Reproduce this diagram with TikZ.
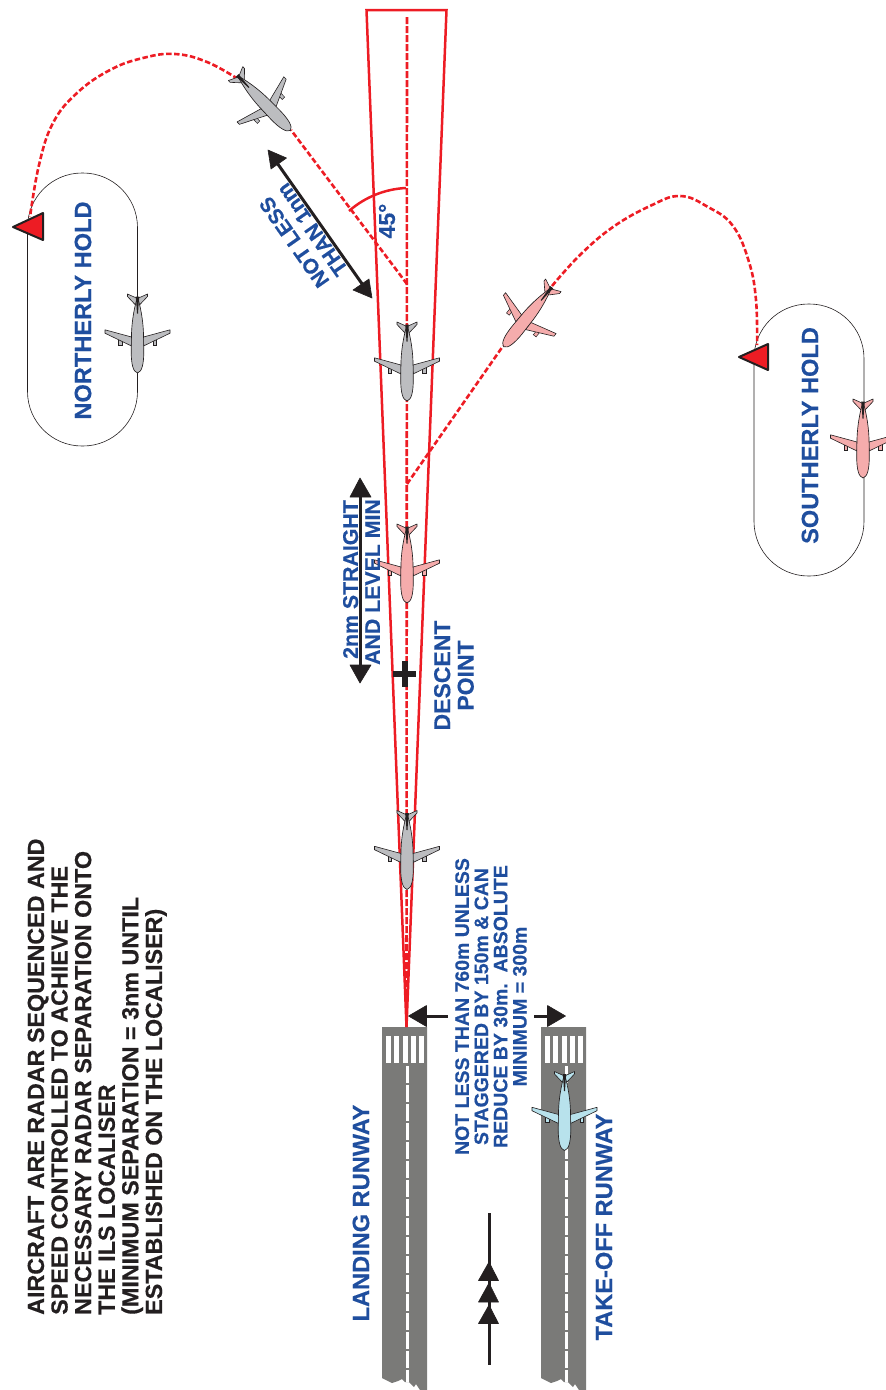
\documentclass[tikz,border=0pt]{standalone}
\usepackage{fontspec}
\setmainfont[BoldFeatures={FakeBold=0.4}]{Liberation Sans}
\definecolor{lblue}{HTML}{1F4E9E}
\definecolor{lred}{HTML}{ED1C24}
\definecolor{lblack}{HTML}{231F20}
\definecolor{rwgrey}{HTML}{7A7A78}
\definecolor{pgrey}{HTML}{BCBDC0}
\definecolor{ppink}{HTML}{F5ACAC}
\definecolor{pcyan}{HTML}{B8E2EC}
\newcommand{\acft}[5]{%
\begin{scope}[shift={(#1,#2)},rotate=#3,local bounding box=#5]
 \filldraw[fill=#4,draw=lblack,line width=.5pt] (-19,6) rectangle (-15.5,11.5);
 \filldraw[fill=#4,draw=lblack,line width=.5pt] (19,6) rectangle (15.5,11.5);
 \filldraw[fill=#4,draw=lblack,line width=.6pt,line join=round]
   (-32.5,-3.7) -- (-32.5,-.3) -- (-6,12.5) -- (-6,3.5) -- cycle;
 \filldraw[fill=#4,draw=lblack,line width=.6pt,line join=round]
   (32.5,-3.7) -- (32.5,-.3) -- (6,12.5) -- (6,3.5) -- cycle;
 \filldraw[fill=#4,draw=lblack,line width=.6pt,line join=round]
   (-10,-39.5) -- (0,-35) -- (10,-39.5) -- (10,-37) -- (1,-27.5) -- (-1,-27.5) -- (-10,-37) -- cycle;
 \filldraw[fill=#4,draw=lblack,line width=.65pt]
   (0,39.5) .. controls (-4.5,38.5) and (-6.3,30) .. (-6.3,18)
   -- (-6,0) .. controls (-5.5,-14) and (-3,-26) .. (-.8,-34) -- (.8,-34)
   .. controls (3,-26) and (5.5,-14) .. (6,0) -- (6.3,18)
   .. controls (6.3,30) and (4.5,38.5) .. (0,39.5) -- cycle;
 \fill[lblack] (-1.8,-37) -- (1.8,-37) -- (1.2,-31) -- (.5,-20) -- (-.5,-20) -- (-1.2,-31) -- cycle;
\end{scope}}
\newcommand{\runway}[2]{%
\begin{scope}[shift={(#1,0)}]
 \fill[rwgrey] (382,1027) -- (427,1027) -- (427,1390) -- (420,1390) -- (416,1384) -- (414,1387) -- (409,1382) -- (405,1382)
   -- (402,1379) -- (398,1381) -- (392,1383) -- (382,1378) -- cycle;
 \foreach \xa in {386,394.4,402.8,411.2,419.4} \fill[white] (\xa,1036) rectangle ++(4.7,27);
 \draw[rwdash] (#2,1066) -- (#2,1382);
\end{scope}}
\tikzset{
 rwdash/.style={white,line width=3pt,dash pattern=on 17pt off 2pt},
 redline/.style={lred,line width=2.5pt},
 reddash/.style={lred,line width=2.6pt,dash pattern=on 5.5pt off 2.5pt},
 ctrdash/.style={lred,line width=2.6pt,dash pattern=on 7pt off 2pt},
 blk/.style={lblack,line width=3pt},
 tip/.style={fill=lblack,draw=lblack,line width=.6pt,line join=round},
 hold/.style={draw=lblack,line width=.6pt},
 redtri/.style={fill=lred,draw=lblack,line width=2pt,line join=round},
 bluetxt/.style={text=lblue,font=\fontsize{#1}{#1}\selectfont\bfseries,rotate=90,inner sep=0pt,align=center},
 bluetxt/.default=21,
}
\begin{document}
\begin{tikzpicture}[x=1pt,y=-1pt]
\useasboundingbox (0,0) rectangle (886,1390);
\clip (0,0) rectangle (886,1390);
% named points
\coordinate (apex) at (406.5,1027);
\coordinate (wedgeL) at (366.5,10);
\coordinate (wedgeR) at (446.5,10);
\coordinate (ctrTop) at (407,17);
\coordinate (join1) at (407,284);
\coordinate (join2) at (407,484);
% runways
\runway{0}{407}
\runway{159}{407}
% holds
\node[hold,draw,rounded corners=54.5pt,minimum width=110pt,minimum height=273pt,inner sep=0pt] (holdN) at (82.5,309.5) {};
\node[hold,draw,rounded corners=54.5pt,minimum width=110pt,minimum height=272pt,inner sep=0pt] (holdS) at (809,440) {};
% localiser
\draw[redline,line join=miter] (apex) -- (wedgeL) -- (wedgeR) -- cycle;
\draw[ctrdash] (ctrTop) -- (apex);
% tracks
\coordinate (noseTop) at (291,130);
\coordinate (noseBank) at (503,346);
\draw[reddash] (join1) -- (noseTop);
\draw[reddash] (join2) -- (noseBank);
\draw[reddash] plot[smooth,tension=.7] coordinates {(238,79) (207,62) (175,54) (143,58) (110,70) (77,93) (53,123) (39,165) (30,217)};
\draw[reddash] plot[smooth,tension=.7] coordinates {(552,286) (580,255) (613,227) (650,206) (680,196) (708,207) (733,226) (749,262) (756,300) (757,345)};
% 45 arc
\coordinate (arcA) at (349,211);
\coordinate (arcB) at (406,188);
\draw[redline] (arcA) .. controls (365,197) and (385,189) .. (arcB);
% red triangles
\filldraw[redtri] (13,227) -- (43,213) -- (43,240) -- cycle;
\filldraw[redtri] (739,357) -- (768,344) -- (768,370) -- cycle;
% black arrows
\coordinate (a1) at (275,160);
\coordinate (a2) at (365,288);
\draw[blk] (a1) -- (a2);
\fill[tip] (268,150) -- (286.5,158) -- (271,169) -- cycle;
\fill[tip] (372,298) -- (353,290) -- (369,279) -- cycle;
\coordinate (b1) at (360,490);
\coordinate (b2) at (360,672);
\draw[blk] (b1) -- (b2);
\fill[tip] (360,478) -- (371,497) -- (350,497) -- cycle;
\fill[tip] (360,683) -- (371,665) -- (350,665) -- cycle;
% cross
\coordinate (c1) at (393,674);
\coordinate (c2) at (416,674);
\coordinate (c3) at (405,661);
\coordinate (c4) at (405,687);
\draw[lblack,line width=6pt] (c1) -- (c2) (c3) -- (c4);
% runway separation arrows
\coordinate (d1) at (420,1016);
\coordinate (d2) at (448,1016);
\draw[blk] (d1) -- (d2);
\fill[tip] (408.5,1016) -- (426.5,1005.5) -- (426.5,1026.5) -- cycle;
\coordinate (e1) at (534,1016);
\coordinate (e2) at (552,1016);
\draw[blk] (e1) -- (e2);
\fill[tip] (565.5,1016) -- (547.5,1005.5) -- (547.5,1026.5) -- cycle;
% direction of landing
\coordinate (f1) at (489,1213);
\coordinate (f2) at (489,1365);
\draw[blk] (f1) -- (f2);
\fill[tip] (489,1262) -- (498.5,1280.5) -- (478.5,1280.5) -- cycle;
\fill[tip] (489,1283) -- (498.5,1302) -- (478.5,1302) -- cycle;
\fill[tip] (489,1305) -- (498.5,1323.5) -- (478.5,1323.5) -- cycle;
% aircraft
\acft{137.5}{333.5}{0}{pgrey}{p1}
\acft{263}{102}{44}{pgrey}{p2}
\acft{407}{361.5}{0}{pgrey}{p3}
\acft{407}{563.5}{0}{ppink}{p4}
\acft{407}{850}{0}{pgrey}{p5}
\acft{564.5}{1111}{0}{pcyan}{p6}
\acft{528.5}{316}{-39}{ppink}{p7}
\acft{863}{438.5}{0}{ppink}{p8}
% text
\node[bluetxt=23.6] (tn) at (83,310.5) {NORTHERLY HOLD};
\node[bluetxt=23.6] (ts) at (810,435.5) {SOUTHERLY HOLD};
\node[bluetxt=23.6] (tl) at (361,1213) {LANDING RUNWAY};
\node[bluetxt=23.6] (tt) at (604,1227) {TAKE-OFF RUNWAY};
\node[bluetxt=23] (t45) at (387,221) {45°};
\node[bluetxt=21,rotate=35,font=\fontsize{21}{22}\selectfont\bfseries] (tnl) at (303,236) {NOT LESS\\THAN 1nm};
\node[bluetxt=21.3,font=\fontsize{21.3}{22}\selectfont\bfseries] (t2) at (361.5,582) {\hspace*{5pt}2nm STRAIGHT\\AND LEVEL MIN};
\node[bluetxt=23,font=\fontsize{23}{23.5}\selectfont\bfseries] (td) at (454,675.5) {DESCENT\\POINT};
\node[bluetxt=19.5,font=\fontsize{19.5}{19.2}\selectfont\bfseries] (tr) at (491,1006.5) {NOT LESS THAN 760m UNLESS\\STAGGERED BY 150m \& CAN\\REDUCE BY 30m.~~ABSOLUTE\\MINIMUM = 300m};
\node[rotate=90,anchor=north west,inner sep=0pt,align=left,text=lblack,font=\fontsize{23.3}{23.6}\selectfont\bfseries] (tb) at (27.5,1315)
 {AIRCRAFT ARE RADAR SEQUENCED AND\\SPEED CONTROLLED TO ACHIEVE THE\\NECESSARY RADAR SEPARATION ONTO\\THE ILS LOCALISER\\(MINIMUM SEPARATION = 3nm UNTIL\\ESTABLISHED ON THE LOCALISER)};
\end{tikzpicture}
\end{document}
